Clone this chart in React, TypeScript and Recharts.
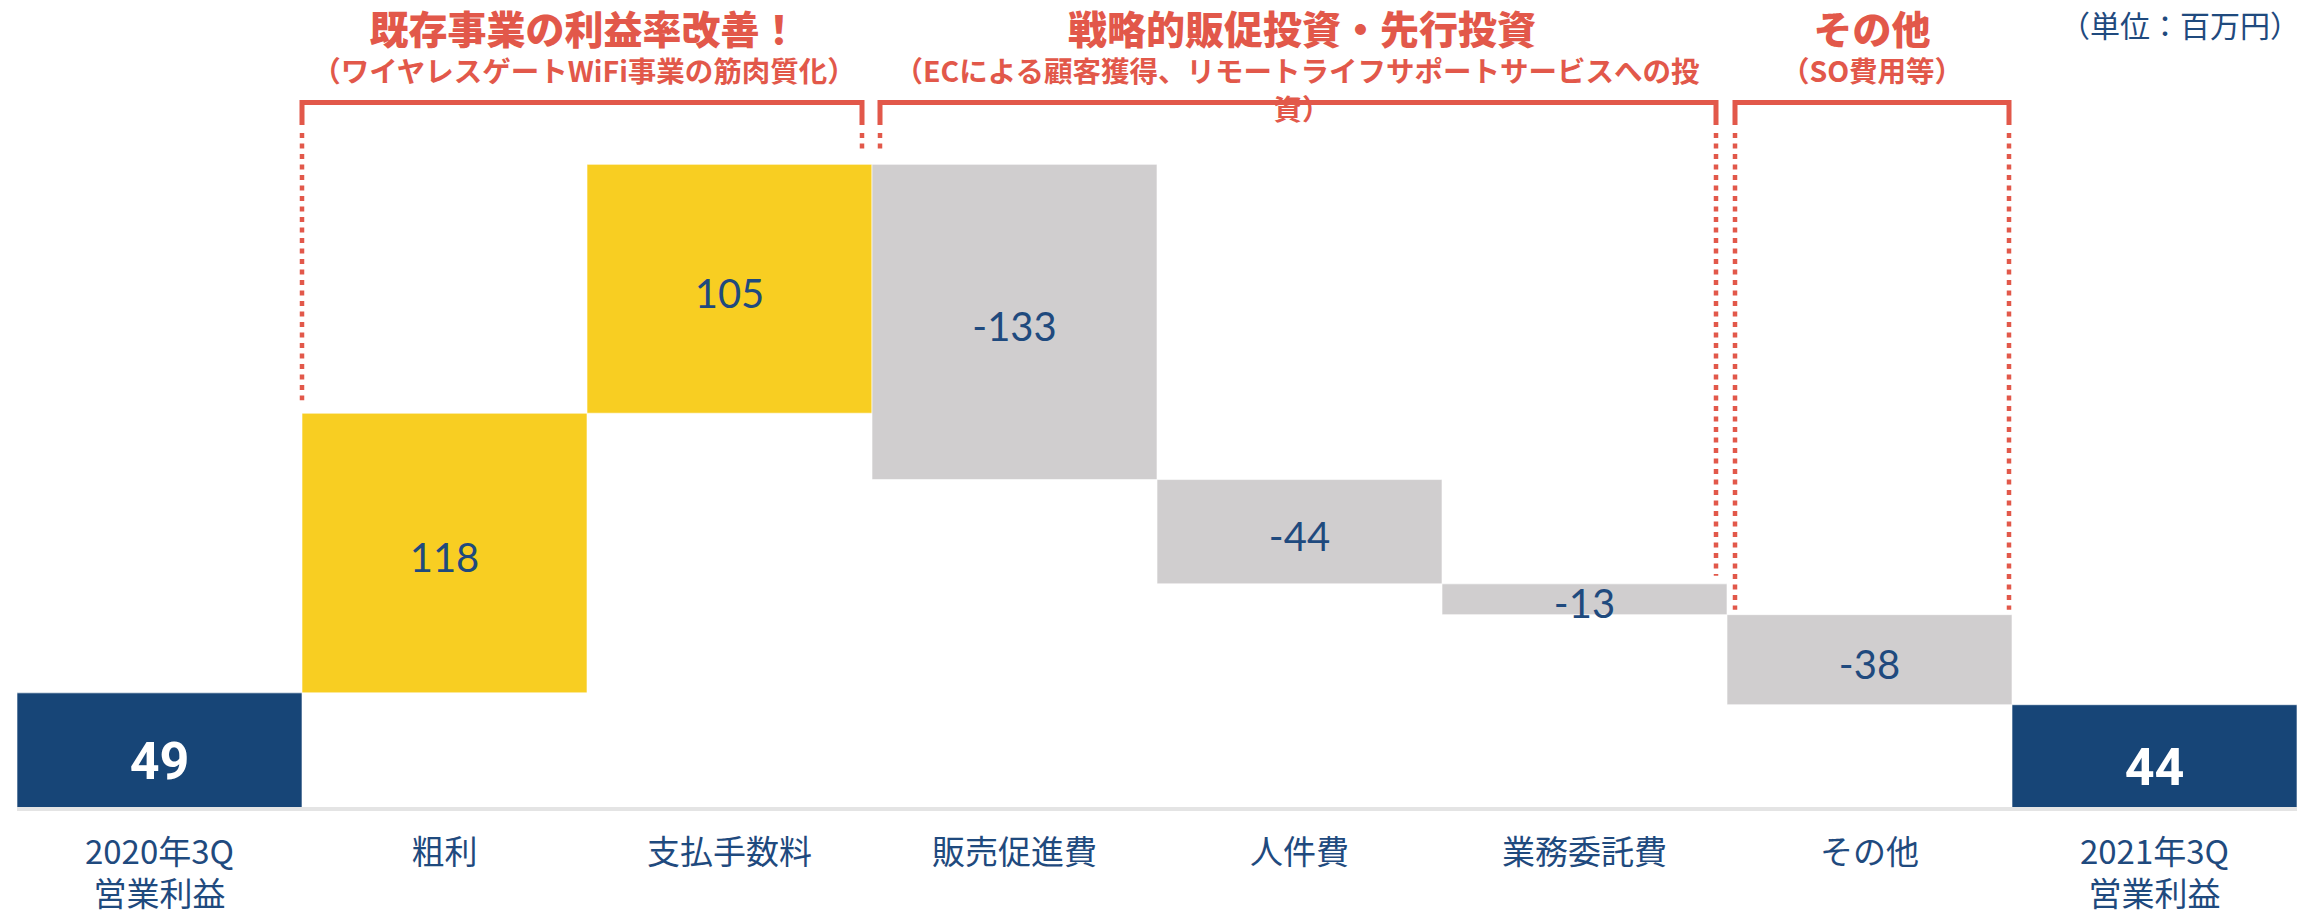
import React from "react";
import { ComposedChart, Bar, XAxis, YAxis, Cell, LabelList } from "recharts";

const CATEGORIES = [
  "2020年3Q\n営業利益",
  "粗利",
  "支払手数料",
  "販売促進費",
  "人件費",
  "業務委託費",
  "その他",
  "2021年3Q\n営業利益",
];
const VALUES = [49, 118, 105, -133, -44, -13, -38, 44];
const KINDS = ["total", "up", "up", "down", "down", "down", "down", "total"];

const GROUP_TITLES = ["既存事業の利益率改善！", "戦略的販促投資・先行投資", "その他"];
const GROUP_SUBTITLES = [
  ["（ワイヤレスゲートWiFi事業の筋肉質化）"],
  ["（ECによる顧客獲得、リモートライフサポートサービスへの投", "資）"],
  ["（SO費用等）"],
];
const UNIT_LABEL = "（単位：百万円）";

const W = 2320;
const H = 916;
const M = { top: 98, right: 23, left: 17, bottom: 0 };
const AXIS_H = 107;
const Y_MAX = 300;
const BAND = (W - M.left - M.right) / CATEGORIES.length;
const PLOT_BOTTOM = H - AXIS_H;
const PX_PER_UNIT = (PLOT_BOTTOM - M.top) / Y_MAX;

const RED = "#E2584A";
const NAVY = "#1F4A7E";
const COLOR = { total: "#174577", up: "#F8CE22", down: "#D0CECF" } as Record<string, string>;
const JP = "'Noto Sans CJK JP', sans-serif";

// build waterfall rows
let running = 0;
const data = CATEGORIES.map((name, i) => {
  const v = VALUES[i];
  const kind = KINDS[i];
  let base = 0;
  let size = v;
  if (kind === "up") {
    base = running;
    running += v;
  } else if (kind === "down") {
    running += v;
    base = running;
    size = -v;
  } else {
    running = v;
  }
  return { name, base, size, kind, value: v, top: base + size };
});

const yPx = (v: number) => PLOT_BOTTOM - v * PX_PER_UNIT;
const edge = (i: number) => M.left + BAND * i;

// eslint-disable-next-line @typescript-eslint/no-explicit-any
const renderTick = (props: any) => {
  const { x, y, payload } = props;
  const lines = String(payload.value).split("\n");
  return (
    <text x={x} y={y} textAnchor="middle" fill={NAVY} fontSize={33} fontFamily={JP}>
      {lines.map((l, i) => (
        <tspan key={i} x={x} dy={i === 0 ? 55 : 42}>
          {l}
        </tspan>
      ))}
    </text>
  );
};

// eslint-disable-next-line @typescript-eslint/no-explicit-any
const renderLabel = (props: any) => {
  const { x, y, width, height, index } = props;
  const d = data[index];
  const cx = x + width / 2;
  const cy = y + height / 2;
  if (d.kind === "total") {
    return (
      <text x={cx} y={cy + 11} textAnchor="middle" dominantBaseline="central" fill="#fff" fontSize={52} fontWeight={700} fontFamily="Roboto, sans-serif">
        {d.value}
      </text>
    );
  }
  return (
    <text x={cx} y={cy + 4} textAnchor="middle" dominantBaseline="central" fill={NAVY} fontSize={40} fontFamily="Lato, sans-serif">
      {d.value}
    </text>
  );
};

function Annotations() {
  const groups = [
    { l: edge(1), r: edge(3) - 10, lEnd: yPx(data[1].top) - 13, rEnd: yPx(data[2].top) - 15 },
    { l: edge(3) + 8, r: edge(6) - 11, lEnd: yPx(data[2].top) - 15, rEnd: yPx(data[5].top) - 8 },
    { l: edge(6) + 8, r: edge(7) - 3, lEnd: yPx(data[6].top) - 5, rEnd: yPx(data[6].top) - 5 },
  ];
  const centers = [584, 1302, 1872];
  const subCenters = [584, 1297, 1872];
  return (
    <svg width={W} height={H} style={{ position: "absolute", left: 0, top: 0, pointerEvents: "none" }}>
      {groups.map((g, i) => (
        <g key={i}>
          <path d={`M${g.l},125 V102.5 H${g.r} V125`} fill="none" stroke={RED} strokeWidth={5} />
          <line x1={g.l} x2={g.l} y1={133} y2={g.lEnd} stroke={RED} strokeWidth={4.5} strokeDasharray="5 5.5" />
          <line x1={g.r} x2={g.r} y1={133} y2={g.rEnd} stroke={RED} strokeWidth={4.5} strokeDasharray="5 5.5" />
        </g>
      ))}
      {GROUP_TITLES.map((t, i) => (
        <text key={t} x={centers[i]} y={27} textAnchor="middle" dominantBaseline="central" fill={RED} fontSize={39} fontWeight={900} fontFamily={JP}>
          {t}
        </text>
      ))}
      {GROUP_SUBTITLES.map((lines, i) =>
        lines.map((t, j) => (
          <text key={t} x={j === 0 ? subCenters[i] : centers[i]} y={69 + j * 38} textAnchor="middle" dominantBaseline="central" fill={RED} fontSize={28.5} fontWeight={700} fontFamily={JP}>
            {t}
          </text>
        ))
      )}
      <text x={2300} y={24} textAnchor="end" dominantBaseline="central" fill={NAVY} fontSize={30} fontFamily={JP}>
        {UNIT_LABEL}
      </text>
    </svg>
  );
}

export default function App() {
  return (
    <div style={{ position: "absolute", left: 0, top: 0, width: W, height: H, background: "#fff" }}>
      <ComposedChart width={W} height={H} data={data} margin={M} barCategoryGap={0} barGap={0}>
        <XAxis
          dataKey="name"
          interval={0}
          height={AXIS_H}
          tick={renderTick}
          tickLine={false}
          tickSize={0}
          tickMargin={0}
          axisLine={{ stroke: "#E4E4E4", strokeWidth: 4 }}
        />
        <YAxis hide domain={[0, Y_MAX]} />
        <Bar dataKey="base" stackId="w" fill="transparent" isAnimationActive={false} />
        <Bar dataKey="size" stackId="w" isAnimationActive={false}>
          {data.map((d, i) => (
            <Cell key={i} fill={COLOR[d.kind]} stroke="#ffffff" strokeOpacity={0.6} strokeWidth={1} />
          ))}
          <LabelList dataKey="size" content={renderLabel} />
        </Bar>
      </ComposedChart>
      <Annotations />
    </div>
  );
}
